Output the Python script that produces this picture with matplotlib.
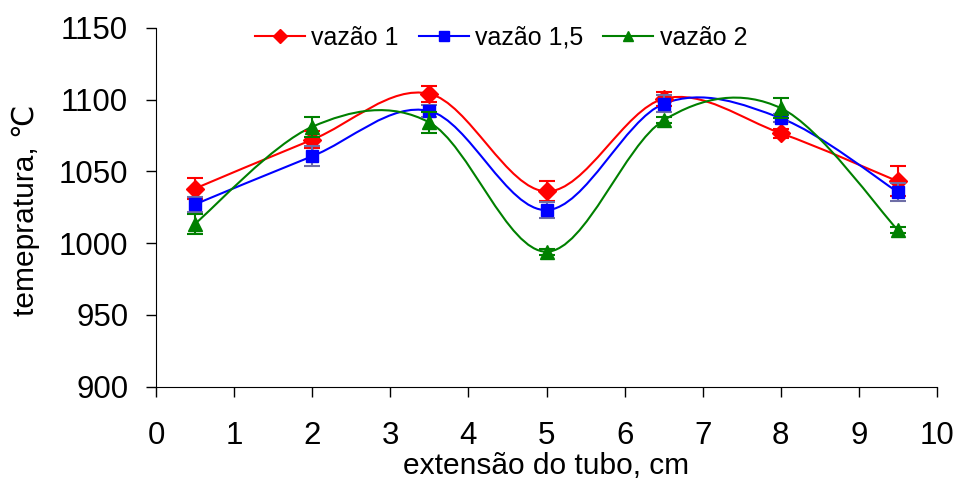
import matplotlib
matplotlib.use("Agg")
import matplotlib.pyplot as plt
from matplotlib.path import Path
from matplotlib.patches import PathPatch
from matplotlib.lines import Line2D

plt.rcParams['font.family'] = ['Liberation Sans', 'DejaVu Sans']

# posições ao longo do tubo (cm)
x = [0.5, 2, 3.5, 5, 6.5, 8, 9.5]

vazao_1 = [1038, 1072, 1104, 1036, 1100.5, 1076.5, 1043]
vazao_15 = [1027, 1060.5, 1092, 1023, 1097, 1087, 1035.5]
vazao_2 = [1013.5, 1081, 1084, 994, 1085.5, 1094, 1009]

err_1 = [7, 6, 5.5, 7, 5, 3, 10.5]
err_15 = [5, 7, 4, 5.5, 6, 3, 6.5]
err_2 = [7, 7, 7, 2, 2, 7, 2]

labels = ["vazão 1", "vazão 1,5", "vazão 2"]


def smooth_path(xs, ys):
    # curva suavizada tipo Excel (bezier com pontos de controle a 1/6)
    pts = list(zip(xs, ys))
    n = len(pts)
    verts = [pts[0]]
    codes = [Path.MOVETO]
    for i in range(n - 1):
        p0 = pts[i - 1] if i > 0 else pts[i]
        p1 = pts[i]
        p2 = pts[i + 1]
        p3 = pts[i + 2] if i + 2 < n else pts[i + 1]
        c1 = (p1[0] + (p2[0] - p0[0]) / 6, p1[1] + (p2[1] - p0[1]) / 6)
        c2 = (p2[0] - (p3[0] - p1[0]) / 6, p2[1] - (p3[1] - p1[1]) / 6)
        verts += [c1, c2, p2]
        codes += [Path.CURVE4] * 3
    return Path(verts, codes)


fig = plt.figure(figsize=(9.59, 4.79), dpi=100)
ax = fig.add_axes([156 / 959, 1 - 386.7 / 479, 781 / 959, 359 / 479])

series = [
    (vazao_1, err_1, 'red', 'red', 'D', 9),
    (vazao_15, err_15, 'blue', '#6E6EA6', 's', 8.5),
    (vazao_2, err_2, 'green', 'green', '^', 9.5),
]

handles = []
for (y, e, col, ecol, mk, ms), lab in zip(series, labels):
    ax.add_patch(PathPatch(smooth_path(x, y), facecolor='none', edgecolor=col, lw=1.5))
    ax.errorbar(x, y, yerr=e, fmt='none', ecolor=ecol, elinewidth=1.5, capsize=5.5, capthick=1.5)
    ax.plot(x, y, linestyle='none', marker=mk, markersize=ms, color=col)
    handles.append(Line2D([], [], color=col, lw=1.5, marker=mk, markersize=ms * 0.8))

ax.set_xlim(0, 10)
ax.set_ylim(900, 1150)
ax.set_xticks(range(0, 11))
ax.set_yticks(range(900, 1151, 50))
ax.spines['top'].set_visible(False)
ax.spines['right'].set_visible(False)
ax.tick_params(axis='both', direction='out', length=7, width=1, labelsize=22.5)
ax.tick_params(axis='y', pad=13)
ax.tick_params(axis='x', pad=18)

fig.text(26 / 959, 1 - 210 / 479, "temepratura, ℃", rotation=90, ha='center', va='center', fontsize=21.5)
fig.text(546.5 / 959, 1 - 466 / 479, "extensão do tubo, cm", ha='center', va='center', fontsize=21.5)

fig.legend(handles, labels, loc='center', bbox_to_anchor=(501 / 959, 1 - 38 / 479), ncol=3,
           frameon=False, fontsize=18, handlelength=2.0, handletextpad=0.25, columnspacing=0.8)

fig.savefig("out.png", dpi=100)
